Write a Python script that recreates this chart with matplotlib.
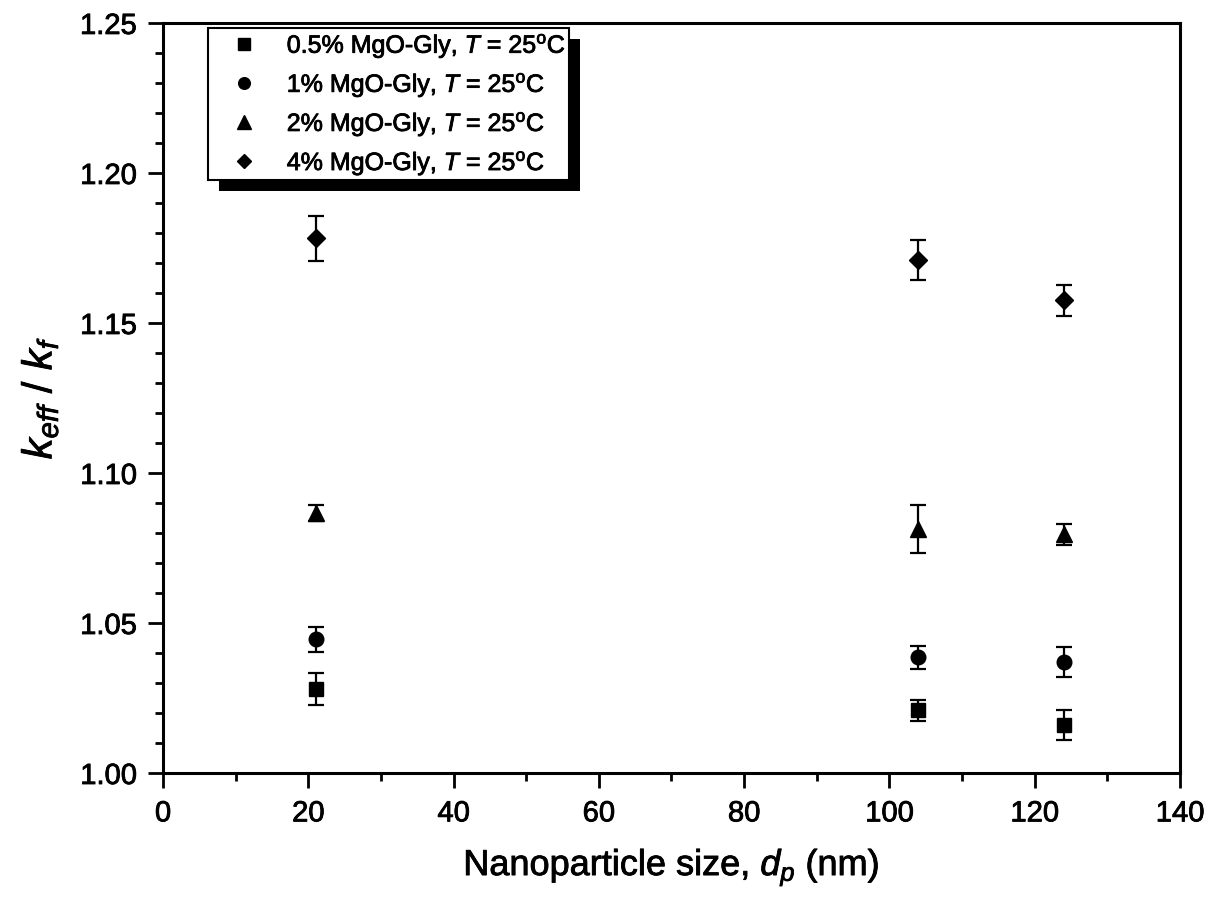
import numpy as np
import matplotlib
matplotlib.use('Agg')
import matplotlib.pyplot as plt
import matplotlib.patheffects as pe
from matplotlib.patches import Rectangle

plt.rcParams['font.family'] = 'Liberation Sans'
plt.rcParams['mathtext.fontset'] = 'custom'
plt.rcParams['mathtext.rm'] = 'Liberation Sans'
plt.rcParams['mathtext.it'] = 'Liberation Sans:italic'

# particle size (nm) and k_eff/k_f for each MgO concentration
dp = [21, 104, 124]

k05 = [1.028, 1.021, 1.016]
err05 = [0.0053, 0.0035, 0.0051]

k1 = [1.0445, 1.0385, 1.037]
err1 = [0.0043, 0.0038, 0.0050]

k2 = [1.0867, 1.0812, 1.0795]
err2 = [0.0027, 0.0080, 0.0035]

k4 = [1.1782, 1.1710, 1.1575]
err4 = [0.0075, 0.0066, 0.0053]

labels = ['0.5% MgO-Gly, $T$ = 25$^{\\rm o}$C',
          '1% MgO-Gly, $T$ = 25$^{\\rm o}$C',
          '2% MgO-Gly, $T$ = 25$^{\\rm o}$C',
          '4% MgO-Gly, $T$ = 25$^{\\rm o}$C']

# slightly heavier strokes for all text
thick = [pe.withStroke(linewidth=0.6, foreground='black')]

fig = plt.figure(figsize=(12.22, 9.04), dpi=100)
ax = fig.add_axes([0.1334, 0.1438, 0.8322, 0.8297])

series = [(k05, err05, 's', 10), (k1, err1, 'o', 10.5),
          (k2, err2, '^', 12), (k4, err4, 'D', 9.5)]
for (k, e, m, ms), lab in zip(series, labels):
    ax.errorbar(dp, k, yerr=e, fmt='none', ecolor='black',
                elinewidth=1.6, capsize=6, capthick=1.6)
    ax.plot(dp, k, linestyle='none', marker=m, markersize=ms,
            color='black', label=lab)

ax.set_xlim(0, 140)
ax.set_ylim(1.00, 1.25)
ax.set_xticks(np.arange(0, 141, 20))
ax.set_xticks(np.arange(10, 140, 20), minor=True)
ax.set_yticks(np.arange(1.00, 1.2501, 0.05))
ax.set_yticks(np.arange(1.00, 1.2501, 0.01), minor=True)
ax.set_yticklabels(['%.2f' % v for v in np.arange(1.00, 1.2501, 0.05)])

for s in ax.spines.values():
    s.set_linewidth(2.2)
ax.tick_params(which='major', direction='out', length=11, width=2,
               labelsize=21, pad=8)
ax.tick_params(which='minor', direction='out', length=6, width=2)

xl = ax.set_xlabel('Nanoparticle size, $d_p$ (nm)', fontsize=26, labelpad=14)
yl = ax.set_ylabel('$k_{eff}$ / $k_f$', fontsize=30, labelpad=14)

leg = ax.legend(loc='upper left', bbox_to_anchor=(0.044, 0.993),
                borderaxespad=0, fontsize=18, markerscale=0.8,
                fancybox=False, framealpha=1, edgecolor='black',
                handletextpad=0.4, labelspacing=0.42, borderpad=0.12,
                handlelength=2.64)
leg.get_frame().set_linewidth(1.5)

for t in ax.get_xticklabels() + ax.get_yticklabels() + leg.get_texts() + [xl, yl]:
    t.set_path_effects(thick)

# solid drop shadow behind the legend box
fig.canvas.draw()
bb = leg.get_window_extent()
shadow = Rectangle((bb.x0 + 11, bb.y0 - 11), bb.width, bb.height,
                   transform=None, facecolor='black', edgecolor='none',
                   zorder=4, clip_on=False)
ax.add_artist(shadow)

fig.savefig('out.png', dpi=100)
